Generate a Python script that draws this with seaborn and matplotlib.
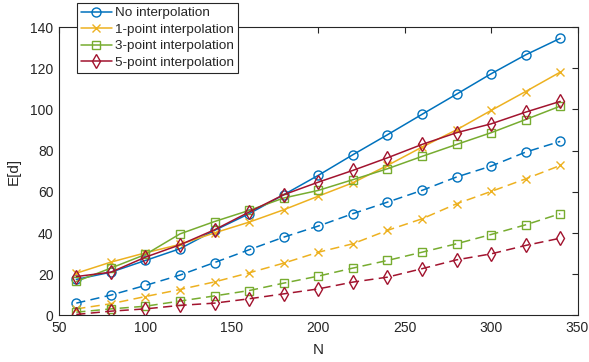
import matplotlib
matplotlib.use("Agg")
import matplotlib.pyplot as plt
import seaborn as sns
import numpy as np

N = [60, 80, 100, 120, 140, 160, 180, 200, 220, 240, 260, 280, 300, 320, 340]

labels = ["No interpolation", "1-point interpolation", "3-point interpolation", "5-point interpolation"]

solid_none = [17.5, 21.0, 26.7, 32.4, 41.3, 49.4, 58.6, 68.0, 78.0, 87.7, 97.6, 107.4, 117.3, 126.5, 134.5]
solid_p1 = [20.5, 25.9, 30.4, 34.5, 40.1, 45.3, 51.3, 57.9, 64.4, 72.8, 81.7, 90.1, 99.5, 108.7, 118.1]
solid_p3 = [16.5, 23.0, 29.6, 39.6, 45.6, 51.0, 57.0, 60.7, 65.9, 71.2, 77.2, 83.0, 88.7, 95.1, 101.6]
solid_p5 = [18.9, 21.0, 28.3, 34.3, 41.6, 50.2, 58.6, 64.7, 70.4, 76.5, 83.0, 88.7, 93.0, 98.7, 103.9]

dash_none = [6.0, 9.9, 14.6, 19.6, 25.7, 31.9, 38.0, 43.4, 49.4, 55.0, 60.7, 67.2, 72.5, 79.3, 84.5]
dash_p1 = [3.2, 5.7, 9.2, 12.6, 16.3, 20.7, 25.4, 30.7, 34.8, 41.3, 46.9, 54.2, 60.2, 66.3, 72.8]
dash_p3 = [1.6, 3.2, 4.5, 7.0, 9.5, 12.1, 15.7, 19.1, 23.0, 26.7, 30.7, 34.8, 39.3, 44.0, 49.4]
dash_p5 = [0.5, 2.1, 3.2, 4.9, 6.0, 8.1, 10.5, 12.9, 16.2, 18.6, 22.7, 27.0, 29.9, 34.0, 37.5]

xticks = [50, 100, 150, 200, 250, 300, 350]
yticks = [0, 20, 40, 60, 80, 100, 120, 140]

colors = ["#0072BD", "#EDB120", "#77AC30", "#A2142F"]
markers = ["o", "x", "s", "d"]
msizes = [6.5, 5.5, 5.5, 7]

sns.set_theme(style="white")
plt.rcParams["font.family"] = ["Liberation Sans", "DejaVu Sans"]
plt.rcParams["axes.edgecolor"] = "#262626"
plt.rcParams["axes.linewidth"] = 0.8

fig = plt.figure(figsize=(5.89, 3.62), dpi=100)
ax = fig.add_axes([0.1002, 0.1285, 0.9805 - 0.1002, 0.9254 - 0.1285])

solids = [solid_none, solid_p1, solid_p3, solid_p5]
dashes = [dash_none, dash_p1, dash_p3, dash_p5]

handles = []
for i in range(4):
    sns.lineplot(x=N, y=dashes[i], ax=ax, color=colors[i], marker=markers[i],
                 markersize=msizes[i], mfc="none", mec=colors[i], mew=1.0,
                 linewidth=1.1, linestyle=(0, (6, 3.5)), legend=False)
for i in range(4):
    sns.lineplot(x=N, y=solids[i], ax=ax, color=colors[i], marker=markers[i],
                 markersize=msizes[i], mfc="none", mec=colors[i], mew=1.0,
                 linewidth=1.1, legend=False)
    handles.append(ax.lines[-1])

if ax.get_legend() is not None:
    ax.get_legend().remove()

ax.set_xlim(50, 350)
ax.set_ylim(0, 140)
ax.set_xticks(xticks)
ax.set_yticks(yticks)
ax.tick_params(direction="in", length=4, width=0.8, top=True, right=True,
               labelsize=10, colors="#262626", pad=4)
for s in ax.spines.values():
    s.set_visible(True)
    s.set_color("#262626")
ax.set_xlabel("N", fontsize=11, color="#262626", labelpad=6)
ax.set_ylabel("E[d]", fontsize=11, color="#262626", labelpad=7)
ax.grid(False)

leg = fig.legend(handles, labels, loc="upper left", bbox_to_anchor=(0.130, 0.992),
                 borderaxespad=0, fontsize=9.7, frameon=True, fancybox=False,
                 handlelength=2.3, handletextpad=0.25, labelspacing=0.3,
                 borderpad=0.3)
leg.get_frame().set_edgecolor("#262626")
leg.get_frame().set_linewidth(0.8)
leg.get_frame().set_facecolor("white")
leg.get_frame().set_alpha(1)

fig.savefig("out.png", dpi=100)
